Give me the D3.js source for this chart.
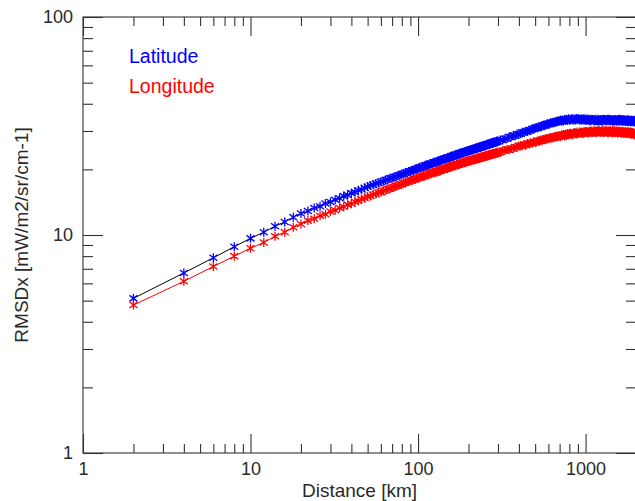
<!DOCTYPE html>
<html>
<head>
<meta charset="utf-8">
<script src="https://cdn.jsdelivr.net/npm/d3@7"></script>
<style>
  html, body { margin: 0; padding: 0; background: #fff; }
  svg { display: block; font-family: "Liberation Sans", Arial, Helvetica, sans-serif; }
</style>
</head>
<body>
<svg id="chart" width="635" height="501"></svg>
<script>
// Lag distances [km]
const distanceKm = [
  2,4,6,8,10,12,14,16,18,20,22,24,26,28,30,32,34,36,38,40,
  42,44,46,48,50,52,54,56,58,60,62,64,66,68,70,72,74,76,78,80,
  82,84,86,88,90,92,94,96,98,100,
  102,104,106,108,110,112,114,116,118,120,122,124,126,128,130,132,134,136,138,140,
  142,144,146,148,150,152,154,156,158,160,162,164,166,168,170,172,174,176,178,180,
  182,184,186,188,190,192,194,196,198,200,202,204,206,208,210,212,214,216,218,220,
  222,224,226,228,230,232,234,236,238,240,242,244,246,248,250,252,254,256,258,260,
  262,264,266,268,270,272,274,276,278,280,282,284,286,288,290,292,294,296,298,300,
  310,320,330,340,350,360,370,380,390,400,410,420,430,440,450,460,470,480,490,500,
  510,520,530,540,550,560,570,580,590,600,610,620,630,640,650,660,670,680,690,700,
  710,720,730,740,750,760,770,780,790,800,810,820,830,840,850,860,870,880,890,900,
  910,920,930,940,950,960,970,980,990,1000,1010,1020,1030,1040,1050,1060,1070,1080,1090,1100,
  1110,1120,1130,1140,1150,1160,1170,1180,1190,1200,1210,1220,1230,1240,1250,1260,1270,1280,1290,1300,
  1310,1320,1330,1340,1350,1360,1370,1380,1390,1400,1410,1420,1430,1440,1450,1460,1470,1480,1490,1500,
  1510,1520,1530,1540,1550,1560,1570,1580,1590,1600,1610,1620,1630,1640,1650,1660,1670,1680,1690,1700,
  1710,1720,1730,1740,1750,1760,1770,1780,1790,1800,1810,1820,1830,1840,1850,1860,1870,1880,1890,1900,
  1910,1920,1930,1940,1950,1960,1970,1980,1990,2000
];

// RMSD along latitude [mW/m2/sr/cm-1]
const rmsdLatitude = [
  5.12, 6.70, 7.86, 8.84, 9.65, 10.30, 10.97, 11.48, 12.07, 12.55,
  12.88, 13.30, 13.55, 13.95, 14.18, 14.52, 14.74, 15.08, 15.25, 15.56,
  15.73, 16.04, 16.18, 16.47, 16.63, 16.86, 16.98, 17.22, 17.33, 17.55,
  17.64, 17.88, 17.97, 18.19, 18.26, 18.47, 18.55, 18.76, 18.83, 19.02,
  19.09, 19.28, 19.35, 19.55, 19.60, 19.79, 19.84, 20.03, 20.08, 20.25,
  20.43, 20.34, 20.57, 20.52, 20.87, 20.81, 21.02, 20.94, 21.28, 21.18,
  21.26, 21.54, 21.49, 21.70, 21.56, 21.84, 21.78, 22.10, 22.01, 22.22,
  22.32, 22.22, 22.42, 22.35, 22.68, 22.60, 22.79, 22.69, 23.02, 22.90,
  22.96, 23.22, 23.16, 23.35, 23.19, 23.46, 23.38, 23.69, 23.58, 23.78,
  23.86, 23.74, 23.92, 23.83, 24.14, 24.04, 24.22, 24.10, 24.41, 24.27,
  24.31, 24.56, 24.48, 24.66, 24.49, 24.74, 24.65, 24.94, 24.81, 25.00,
  25.08, 24.94, 25.12, 25.01, 25.32, 25.21, 25.37, 25.25, 25.55, 25.41,
  25.44, 25.68, 25.60, 25.77, 25.59, 25.83, 25.73, 26.01, 25.88, 26.06,
  26.13, 25.99, 26.16, 26.05, 26.35, 26.24, 26.40, 26.26, 26.56, 26.41,
  26.44, 26.68, 26.58, 26.75, 26.56, 26.80, 26.70, 26.97, 26.84, 27.01,
  27.28, 27.28, 27.65, 27.68, 28.20, 28.21, 28.56, 28.54, 29.03, 28.99,
  29.16, 29.57, 29.60, 29.92, 29.83, 30.22, 30.21, 30.65, 30.61, 30.94,
  31.12, 31.05, 31.35, 31.31, 31.77, 31.72, 32.00, 31.92, 32.35, 32.25,
  32.36, 32.70, 32.66, 32.91, 32.75, 33.07, 32.99, 33.35, 33.23, 33.47,
  33.68, 33.28, 33.62, 33.30, 33.95, 33.60, 33.91, 33.51, 34.12, 33.68,
  33.66, 34.12, 33.82, 34.11, 33.58, 34.03, 33.68, 34.22, 33.80, 34.11,
  34.16, 33.69, 33.96, 33.58, 34.17, 33.76, 34.02, 33.57, 34.14, 33.66,
  33.61, 34.03, 33.70, 33.96, 33.41, 33.83, 33.46, 33.99, 33.56, 33.86,
  33.90, 33.43, 33.70, 33.32, 33.92, 33.52, 33.79, 33.35, 33.93, 33.46,
  33.42, 33.86, 33.54, 33.83, 33.29, 33.74, 33.38, 33.93, 33.51, 33.83,
  33.88, 33.43, 33.71, 33.35, 33.95, 33.56, 33.83, 33.39, 33.97, 33.50,
  33.45, 33.88, 33.55, 33.82, 33.27, 33.70, 33.33, 33.86, 33.43, 33.74,
  33.79, 33.33, 33.61, 33.25, 33.86, 33.48, 33.76, 33.34, 33.92, 33.47,
  33.43, 33.86, 33.53, 33.79, 33.23, 33.65, 33.27, 33.79, 33.35, 33.65,
  33.69, 33.22, 33.49, 33.12, 33.72, 33.33, 33.60, 33.18, 33.76, 33.31,
  33.27, 33.70, 33.37, 33.63, 33.07, 33.49, 33.11, 33.63, 33.19, 33.49,
  33.53, 33.06, 33.33, 32.96, 33.56, 33.16, 33.42, 32.98, 33.54, 33.06
];

// RMSD along longitude [mW/m2/sr/cm-1]
const rmsdLongitude = [
  4.77, 6.13, 7.17, 8.00, 8.70, 9.24, 9.86, 10.30, 10.85, 11.22,
  11.64, 11.88, 12.25, 12.46, 12.81, 12.99, 13.31, 13.47, 13.78, 13.92,
  14.21, 14.34, 14.62, 14.73, 15.00, 15.09, 15.34, 15.42, 15.66, 15.73,
  15.96, 16.03, 16.25, 16.32, 16.53, 16.59, 16.80, 16.85, 17.06, 17.10,
  17.31, 17.35, 17.55, 17.58, 17.78, 17.81, 18.01, 18.04, 18.22, 18.26,
  18.30, 18.58, 18.54, 18.75, 18.61, 18.89, 18.83, 19.14, 19.05, 19.26,
  19.36, 19.25, 19.45, 19.37, 19.70, 19.62, 19.80, 19.70, 20.02, 19.90,
  19.96, 20.22, 20.15, 20.34, 20.18, 20.44, 20.36, 20.66, 20.55, 20.75,
  20.83, 20.71, 20.89, 20.80, 21.11, 21.01, 21.19, 21.07, 21.39, 21.25,
  21.28, 21.52, 21.44, 21.61, 21.43, 21.67, 21.57, 21.85, 21.72, 21.90,
  21.97, 21.83, 21.99, 21.88, 22.18, 22.07, 22.23, 22.09, 22.39, 22.23,
  22.26, 22.50, 22.40, 22.57, 22.38, 22.61, 22.51, 22.78, 22.64, 22.81,
  22.88, 22.73, 22.89, 22.77, 23.06, 22.94, 23.10, 22.96, 23.25, 23.09,
  23.11, 23.34, 23.24, 23.39, 23.20, 23.43, 23.32, 23.59, 23.44, 23.61,
  23.67, 23.52, 23.68, 23.55, 23.84, 23.72, 23.86, 23.72, 24.00, 23.84,
  23.99, 24.38, 24.39, 24.69, 24.58, 24.96, 24.94, 25.36, 25.29, 25.58,
  25.74, 25.64, 25.91, 25.84, 26.27, 26.19, 26.45, 26.35, 26.75, 26.63,
  26.73, 27.06, 27.01, 27.25, 27.08, 27.40, 27.32, 27.68, 27.56, 27.81,
  27.92, 27.77, 27.99, 27.88, 28.27, 28.14, 28.35, 28.20, 28.56, 28.39,
  28.34, 28.84, 28.58, 28.91, 28.43, 28.92, 28.61, 29.20, 28.83, 29.18,
  29.28, 28.86, 29.18, 28.85, 29.49, 29.13, 29.44, 29.04, 29.65, 29.22,
  29.21, 29.68, 29.39, 29.69, 29.18, 29.64, 29.30, 29.86, 29.46, 29.79,
  29.86, 29.41, 29.71, 29.35, 29.97, 29.59, 29.87, 29.45, 30.04, 29.59,
  29.56, 30.01, 29.70, 29.98, 29.45, 29.89, 29.54, 30.08, 29.67, 29.98,
  30.04, 29.58, 29.86, 29.49, 30.09, 29.70, 29.97, 29.54, 30.12, 29.66,
  29.62, 30.06, 29.74, 30.01, 29.47, 29.91, 29.55, 30.08, 29.66, 29.96,
  30.01, 29.54, 29.82, 29.44, 30.04, 29.64, 29.90, 29.46, 30.04, 29.57,
  29.53, 29.97, 29.65, 29.92, 29.37, 29.80, 29.44, 29.97, 29.54, 29.84,
  29.88, 29.41, 29.68, 29.30, 29.89, 29.49, 29.75, 29.30, 29.87, 29.39,
  29.34, 29.77, 29.44, 29.71, 29.16, 29.59, 29.22, 29.75, 29.32, 29.62,
  29.66, 29.19, 29.46, 29.08, 29.67, 29.27, 29.53, 29.08, 29.64, 29.16,
  29.10, 29.51, 29.16, 29.40, 28.81, 29.20, 28.78, 29.25, 28.76, 28.99
];

const xMajorTicks = [1, 10, 100, 1000];
const yMajorTicks = [1, 10, 100];
const xMinorTicks = [2,3,4,5,6,7,8,9,20,30,40,50,60,70,80,90,200,300,400,500,600,700,800,900,2000];
const yMinorTicks = [2,3,4,5,6,7,8,9,20,30,40,50,60,70,80,90];

const seriesNames = ["Latitude", "Longitude"];

const svg = d3.select("#chart");
const margin = { left: 83, top: 17, right: 636, bottom: 453 };

const x = d3.scaleLog().domain([1, 2000]).range([margin.left, margin.right]);
const y = d3.scaleLog().domain([1, 100]).range([margin.bottom, margin.top]);

const axisColor = "#333";
const textColor = "#2a2a2a";

svg.append("rect").attr("width", 635).attr("height", 501).attr("fill", "#fff");

// Plot frame
svg.append("rect")
  .attr("x", margin.left).attr("y", margin.top)
  .attr("width", margin.right - margin.left)
  .attr("height", margin.bottom - margin.top)
  .attr("fill", "none").attr("stroke", axisColor).attr("stroke-width", 1.1);

function styleAxis(g) {
  g.select(".domain").remove();
  g.selectAll(".tick line").attr("stroke", axisColor).attr("stroke-width", 1.1);
  g.selectAll(".tick text").attr("fill", textColor)
    .style("font-size", "18px").style("font-family", "'Liberation Sans', Arial, sans-serif");
}

// Bottom axis
svg.append("g").attr("transform", `translate(0,${margin.bottom})`)
  .call(d3.axisBottom(x).tickValues(xMajorTicks).tickSize(-19).tickPadding(9.5)
    .tickFormat(d3.format("d")))
  .call(styleAxis);
svg.append("g").attr("transform", `translate(0,${margin.bottom})`)
  .call(d3.axisBottom(x).tickValues(xMinorTicks).tickSize(-9).tickFormat(""))
  .call(styleAxis);

// Top axis
svg.append("g").attr("transform", `translate(0,${margin.top})`)
  .call(d3.axisTop(x).tickValues(xMajorTicks).tickSize(-19).tickFormat(""))
  .call(styleAxis);
svg.append("g").attr("transform", `translate(0,${margin.top})`)
  .call(d3.axisTop(x).tickValues(xMinorTicks).tickSize(-9).tickFormat(""))
  .call(styleAxis);

// Left axis
svg.append("g").attr("transform", `translate(${margin.left},0)`)
  .call(d3.axisLeft(y).tickValues(yMajorTicks).tickSize(-20).tickPadding(10)
    .tickFormat(d3.format("d")))
  .call(styleAxis);
svg.append("g").attr("transform", `translate(${margin.left},0)`)
  .call(d3.axisLeft(y).tickValues(yMinorTicks).tickSize(-10).tickFormat(""))
  .call(styleAxis);

// Right axis
svg.append("g").attr("transform", `translate(${margin.right},0)`)
  .call(d3.axisRight(y).tickValues(yMajorTicks).tickSize(-20).tickFormat(""))
  .call(styleAxis);
svg.append("g").attr("transform", `translate(${margin.right},0)`)
  .call(d3.axisRight(y).tickValues(yMinorTicks).tickSize(-10).tickFormat(""))
  .call(styleAxis);

// Axis titles
svg.append("text")
  .attr("x", (margin.left + margin.right) / 2).attr("y", 497)
  .attr("text-anchor", "middle").attr("fill", textColor)
  .style("font-size", "19px")
  .text("Distance [km]");

svg.append("text")
  .attr("transform", `translate(27.5,${(margin.top + margin.bottom) / 2}) rotate(-90)`)
  .attr("text-anchor", "middle").attr("fill", textColor)
  .style("font-size", "19px")
  .text("RMSDx [mW/m2/sr/cm-1]");

// Series: connecting line under asterisk markers
const asterisk = "M0,-4.5V4.5M-4,-3L4,3M-4,3L4,-3";
const line = d3.line().x(d => x(d[0])).y(d => y(d[1]));

const series = [
  { name: seriesNames[0], values: rmsdLatitude, lineColor: "#000", markColor: "#0000ff" },
  { name: seriesNames[1], values: rmsdLongitude, lineColor: "#ff0000", markColor: "#ff0000" }
];

const plot = svg.append("g");
series.forEach(s => {
  const pts = distanceKm.map((d, i) => [d, s.values[i]]);
  plot.append("path").datum(pts)
    .attr("d", line).attr("fill", "none")
    .attr("stroke", s.lineColor).attr("stroke-width", 1);
  plot.append("g").selectAll("path").data(pts).join("path")
    .attr("transform", d => `translate(${x(d[0])},${y(d[1])})`)
    .attr("d", asterisk)
    .attr("fill", "none").attr("stroke", s.markColor).attr("stroke-width", 1.3);
});

// Legend
const legend = svg.append("g").style("font-size", "19.5px");
series.forEach((s, i) => {
  legend.append("text")
    .attr("x", 129).attr("y", 63 + i * 30)
    .attr("fill", s.markColor)
    .text(s.name);
});
</script>
</body>
</html>
